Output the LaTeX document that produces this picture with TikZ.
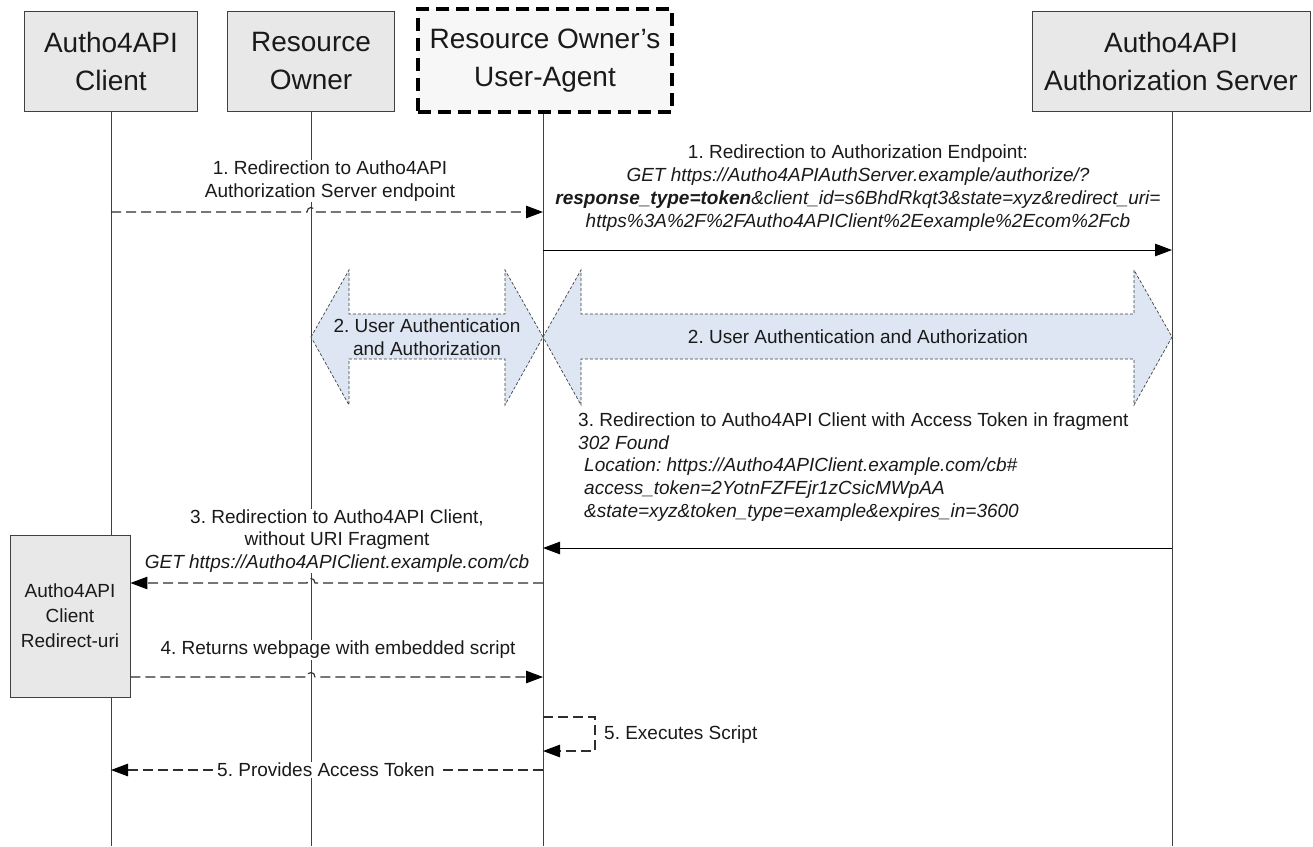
\documentclass[tikz,border=0pt]{standalone}
\usepackage{fontspec}
\setmainfont{Liberation Sans}
\usetikzlibrary{arrows.meta,calc}
\definecolor{hdrfill}{HTML}{E8E8E8}
\definecolor{uafill}{HTML}{F7F7F7}
\definecolor{dblfill}{HTML}{DDE6F2}
\definecolor{linegray}{HTML}{404040}
\definecolor{dashgray}{HTML}{2E2E2E}
\definecolor{txt}{HTML}{1A1A1A}
\tikzset{
  hdr/.style={draw=linegray, fill=hdrfill, line width=0.9pt, align=center, text=txt,
    font=\fontsize{28}{38}\selectfont, inner sep=0pt},
  uabox/.style={draw=black, fill=uafill, line width=3.5pt, dash pattern=on 13pt off 7pt,
    align=center, text=txt, font=\fontsize{28}{38}\selectfont, inner sep=0pt},
  life/.style={draw=linegray, line width=0.9pt},
  dmsg/.style={draw=dashgray, line width=1.1pt, dash pattern=on 10pt off 5pt,
    -{Triangle[length=17pt,width=12.5pt,color=black]}},
  smsg/.style={draw=black, line width=1pt, -{Triangle[length=17pt,width=12.5pt,color=black]}},
  lbl/.style={font=\fontsize{19}{22.5}\selectfont, align=center, text=txt, inner sep=1pt},
  dblarrow/.style={draw=linegray, fill=dblfill, line width=0.7pt, dash pattern=on 3pt off 2pt},
}
\begin{document}
\frenchspacing
\begin{tikzpicture}[x=1pt,y=-1pt]
\useasboundingbox (0,0) rectangle (1313,846);
\fill[white] (0,0) rectangle (1313,846);
% headers
\node[hdr, minimum width=173pt, minimum height=100pt, text depth=0pt] (hA) at (111,61) {Autho4API\\Client};
\node[hdr, minimum width=167pt, minimum height=100pt] (hB) at (311,61) {Resource\\Owner};
\node[uabox, minimum width=254pt, minimum height=103pt] (hC) at (545,60.5) {Resource Owner’s\\User-Agent};
\node[hdr, minimum width=278pt, minimum height=100pt] (hD) at (1171,61) {Autho4API\\Authorization Server};
% lifeline ends
\coordinate (eA) at (111,846);
\coordinate (eB) at (311,846);
\coordinate (eC) at (543,846);
\coordinate (eD) at (1172,846);
\draw[life] (hA.south -| eA) -- (eA);
\draw[life] (hB.south -| eB) -- (eB);
\draw[life] (hC.south -| eC) -- (eC);
\draw[life] (hD.south -| eD) -- (eD);
% double arrows
\draw[dblarrow] (311,337) -- (349,270) -- (349,314) -- (505,314) -- (505,270) -- (543,337)
  -- (505,405) -- (505,359) -- (349,359) -- (349,405) -- cycle;
\node[lbl] (l2a) at (427,337) {2. User Authentication\\and Authorization};
\draw[dblarrow] (543,337) -- (581,270) -- (581,314) -- (1134,314) -- (1134,270) -- (1172,337)
  -- (1134,405) -- (1134,359) -- (581,359) -- (581,405) -- cycle;
\node[lbl] (l2b) at (858,337) {2. User Authentication and Authorization};
% message 1a
\coordinate (a1) at (111,212);
\coordinate (b1) at (311,212);
\coordinate (c1) at (543,212);
\node[lbl, fill=white] (l1a) at (330,181) {1. Redirection to Autho4API\\Authorization Server endpoint};
\draw[dmsg] (a1) -- ($(b1)+(-4,0)$) .. controls ($(b1)+(-4,-6)$) and ($(b1)+(4,-6)$) .. ($(b1)+(4,0)$) -- (c1);
% message 1b
\coordinate (c1b) at (543,250);
\coordinate (d1b) at (1172,250);
\draw[smsg] (c1b) -- (d1b);
\node[lbl, font=\fontsize{19}{22.8}\selectfont] (l1b) at (858,188) {1. Redirection to Authorization Endpoint:\\
\textit{GET https://Autho4APIAuthServer.example/authorize/?}\\
\textbf{\textit{response\_type=token}}\textit{\&client\_id=s6BhdRkqt3\&state=xyz\&redirect\_uri=}\\
\textit{https\%3A\%2F\%2FAutho4APIClient\%2Eexample\%2Ecom\%2Fcb}};
% message 3a
\coordinate (d3) at (1172,548);
\coordinate (c3) at (543,548);
\draw[smsg] (d3) -- (c3);
\node[lbl, align=left, anchor=west, inner sep=0pt, font=\fontsize{19}{22.8}\selectfont] (l3a) at (578,467)
{3. Redirection to Autho4API Client with Access Token in fragment\\
\textit{302 Found}\\
\hspace*{6pt}\textit{Location: https://Autho4APIClient.example.com/cb\#}\\
\hspace*{6pt}\textit{access\_token=2YotnFZFEjr1zCsicMWpAA}\\
\hspace*{6pt}\textit{\&state=xyz\&token\_type=example\&expires\_in=3600}};
% redirect-uri box
\node[hdr, minimum width=120pt, minimum height=162pt, font=\fontsize{19}{25}\selectfont] (hE) at (70,616) {Autho4API\\Client\\Redirect-uri};
% message 3b
\coordinate (c3b) at (543,583);
\coordinate (b3b) at (311,583);
\node[lbl, fill=white] (l3b) at (337,541) {3. Redirection to Autho4API Client,\\without URI Fragment\\\textit{GET https://Autho4APIClient.example.com/cb}};
\draw[dmsg] (c3b) -- ($(b3b)+(4,0)$) .. controls ($(b3b)+(4,-6)$) and ($(b3b)+(-4,-6)$) .. ($(b3b)+(-4,0)$) -- (c3b -| hE.east);
% message 4
\coordinate (c4) at (543,677);
\coordinate (b4) at (311,677);
\node[lbl, fill=white] (l4) at (338,650) {4. Returns webpage with embedded script};
\draw[dmsg] (c4 -| hE.east) -- ($(b4)+(-4,0)$) .. controls ($(b4)+(-4,-6)$) and ($(b4)+(4,-6)$) .. ($(b4)+(4,0)$) -- (c4);
% message 5a (self)
\coordinate (c5a) at (543,717);
\coordinate (c5b) at (543,751);
\draw[dmsg] (c5a) -- ++(52,0) -- ++(0,34) -- (c5b);
\node[lbl, anchor=west] (l5a) at (603,735) {5. Executes Script};
% message 5b
\coordinate (c5) at (543,770);
\coordinate (a5) at (111,770);
\draw[dmsg] (c5) -- (a5);
\node[lbl, fill=white, inner xsep=3pt] (l5b) at (326,770) {5. Provides Access Token};
\end{tikzpicture}
\end{document}
